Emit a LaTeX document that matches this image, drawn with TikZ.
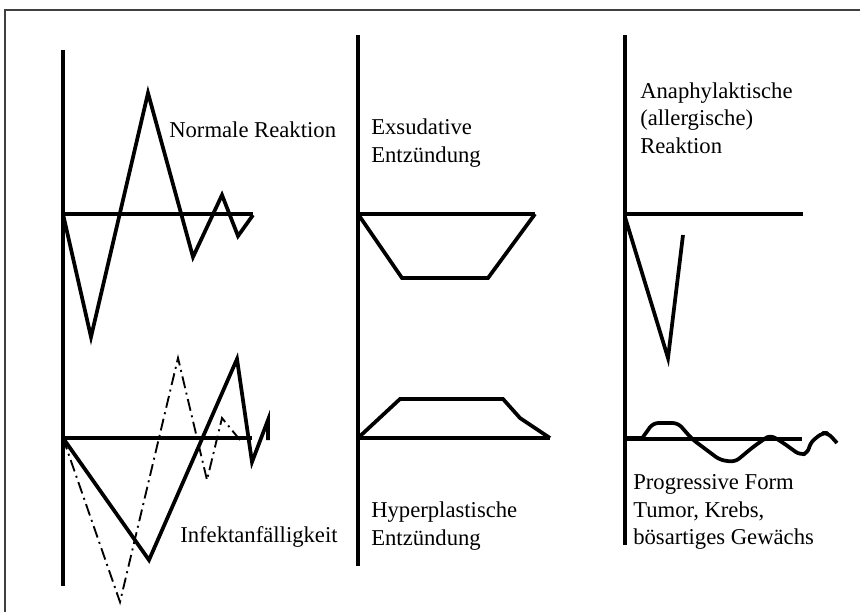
\documentclass[tikz,border=0pt]{standalone}
\usepackage{fontspec}
\setmainfont{Liberation Serif}
\usepackage{tikz}

\begin{document}
\begin{tikzpicture}[
  x=0.75pt, y=-0.75pt,
  axis/.style={line width=2.3pt},
  curve/.style={line width=2.8pt, line join=miter},
  thin curve/.style={line width=1.4pt, dash pattern=on 9pt off 3.5pt on 1.5pt off 3.5pt},
  label/.style={font=\fontsize{17}{20.6}\selectfont, align=left, anchor=west, inner sep=0pt},
]
\useasboundingbox (0,0) rectangle (860,612);
\draw[gray!50!black, line width=0.9pt] (5,612) -- (5,10) -- (860,10);

% axes
\draw[axis] (63,50) -- (63,586);
\draw[axis] (358,35) -- (358,566);
\draw[axis] (625,35) -- (625,545);

% left column
\draw[curve] (63,214) -- (253,214);
\draw[curve] (63,214) -- (91,337) -- (148,93) -- (193,257) -- (222,195) -- (238,236) -- (253,215);
\node[label] (normal) at (169,130) {Normale Reaktion};

\draw[curve] (63,438) -- (252,438);
\draw[thin curve] (63,438) -- (120,602) -- (178,358) -- (207,480) -- (222,418) -- (240,440);
\draw[curve] (63,438) -- (149,560) -- (237,359) -- (252,462) -- (268,420) -- (268,440);
\node[label] (infekt) at (180,537) {Infektanfälligkeit};

% middle column
\draw[curve] (358,214) -- (535,214);
\draw[curve] (358,214) -- (402,278) -- (488,278) -- (535,214);
\node[label] (exsud) at (371,143) {Exsudative\\Entzündung};

\draw[curve] (358,438) -- (550,438);
\draw[curve] (358,438) -- (400,399) -- (503,399) -- (520,418) -- (550,438);
\node[label] (hyper) at (371,526) {Hyperplastische\\Entzündung};

% right column
\draw[curve] (625,214) -- (803,214);
\draw[curve] (625,217) -- (668,358) -- (683,235);
\node[label] (ana) at (640,118) {Anaphylaktische\\(allergische)\\Reaktion};

\draw[curve] (625,439) -- (802,439);
\draw[curve, line width=3.6pt] (625,438) -- (643,438);
\draw[curve, line join=round, rounded corners=4pt] (643,437) -- (653,423) -- (678,423) -- (692,439) -- (720,460)
  -- (735,462) -- (753,447) -- (770,435) -- (782,442) -- (800,455) -- (808,453)
  -- (810,443) -- (822,433) -- (828,433) -- (837,443);
\node[label] (progr) at (633,512) {Progressive Form\\Tumor, Krebs,\\bösartiges Gewächs};
\end{tikzpicture}
\end{document}
